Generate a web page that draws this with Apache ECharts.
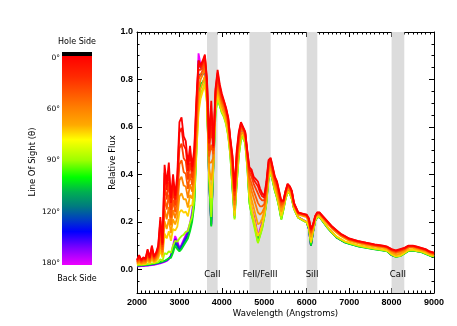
<!DOCTYPE html>
<html>
<head>
<meta charset="utf-8">
<script src="https://cdn.jsdelivr.net/npm/echarts@6/dist/echarts.min.js"></script>
<style>
html, body { margin: 0; padding: 0; background: #ffffff; }
#chart { width: 457px; height: 326px; }
</style>
</head>
<body>
<div id="chart"></div>
<script>
const wavelengths = [
    2000, 2050, 2100, 2150, 2200, 2250, 2300, 2350, 2400, 2450,
    2500, 2550, 2600, 2650, 2700, 2750, 2800, 2850, 2900, 2950,
    3000, 3050, 3100, 3150, 3200, 3250, 3300, 3350, 3400, 3450,
    3500, 3550, 3600, 3650, 3700, 3750, 3800, 3850, 3900, 3950,
    4000, 4050, 4100, 4150, 4200, 4250, 4300, 4350, 4400, 4450,
    4500, 4550, 4600, 4650, 4700, 4750, 4800, 4850, 4900, 4950,
    5000, 5050, 5100, 5150, 5200, 5250, 5300, 5350, 5400, 5450,
    5500, 5550, 5600, 5650, 5700, 5800, 5900, 6000, 6050, 6100,
    6150, 6200, 6250, 6300, 6400, 6500, 6600, 6700, 6800, 6900,
    7000, 7200, 7400, 7600, 7800, 7900, 8000, 8100, 8200, 8300,
    8400, 8500, 8600, 8700, 8800, 8900, 9000
];

// flux per viewing angle (hole side = 0 deg, back side = 180 deg)
const flux0 = [
    .04, .06, .04, .05, .045, .085, .05, .10, .055, .07,
    .10, .22, .11, .44, .36, .45, .30, .40, .31, .40,
    .62, .64, .56, .54, .44, .52, .43, .51, .72, .88,
    .86, .88, .905, .80, .55, .71, .52, .76, .84, .78,
    .74, .71, .68, .64, .55, .48, .34, .50, .58, .62,
    .60, .58, .50, .43, .42, .39, .38, .37, .34, .32,
    .31, .37, .46, .47, .43, .39, .37, .33, .29, .29,
    .33, .36, .35, .33, .28, .24, .235, .23, .215, .17,
    .19, .225, .24, .24, .22, .20, .18, .165, .15, .14,
    .13, .12, .112, .105, .10, .095, .085, .08, .085, .09,
    .10, .10, .095, .09, .085, .075, .07
];
const flux25 = [
    .038, .056, .038, .047, .042, .079, .047, .093, .052, .066,
    .094, .204, .103, .407, .334, .417, .28, .374, .293, .375,
    .576, .596, .523, .506, .415, .491, .412, .491, .696, .864,
    .852, .872, .899, .792, .53, .666, .512, .752, .828, .772,
    .732, .706, .676, .636, .546, .472, .328, .488, .572, .616,
    .596, .578, .496, .422, .408, .378, .364, .35, .324, .308,
    .302, .362, .452, .466, .426, .386, .366, .326, .286, .288,
    .329, .359, .349, .329, .279, .239, .234, .229, .213, .167,
    .189, .224, .239, .239, .219, .199, .179, .164, .149, .139,
    .129, .119, .111, .104, .099, .094, .084, .078, .083, .089,
    .099, .099, .094, .089, .084, .074, .069
];
const flux41 = [
    .034, .05, .034, .042, .038, .071, .043, .083, .047, .06,
    .084, .18, .093, .357, .294, .367, .25, .334, .268, .337,
    .51, .53, .468, .455, .378, .448, .384, .462, .66, .84,
    .84, .86, .89, .78, .50, .60, .50, .74, .81, .76,
    .72, .70, .67, .63, .54, .46, .31, .47, .56, .61,
    .59, .575, .49, .41, .39, .36, .34, .32, .30, .29,
    .29, .35, .44, .46, .42, .38, .36, .32, .28, .285,
    .325, .355, .345, .325, .276, .237, .232, .227, .21, .162,
    .186, .222, .237, .237, .217, .197, .177, .162, .147, .137,
    .127, .117, .109, .102, .097, .092, .081, .075, .08, .086,
    .097, .097, .092, .087, .082, .072, .067
];
const flux50 = [
    .03, .044, .03, .037, .034, .062, .038, .072, .042, .053,
    .074, .155, .082, .305, .252, .315, .217, .292, .241, .297,
    .442, .46, .41, .402, .339, .403, .355, .432, .62, .80,
    .82, .84, .87, .76, .475, .525, .485, .73, .795, .75,
    .71, .69, .66, .62, .53, .44, .29, .45, .545, .60,
    .588, .568, .48, .39, .36, .33, .305, .28, .265, .265,
    .275, .335, .43, .45, .41, .37, .35, .31, .27, .28,
    .32, .35, .342, .321, .273, .236, .231, .226, .207, .155,
    .183, .221, .236, .236, .216, .196, .176, .161, .146, .136,
    .126, .116, .108, .101, .096, .091, .079, .072, .077, .084,
    .096, .096, .091, .086, .081, .071, .066
];
const flux60 = [
    .027, .038, .027, .032, .03, .053, .034, .062, .037, .047,
    .064, .13, .071, .254, .21, .263, .185, .25, .215, .258,
    .375, .39, .353, .349, .30, .358, .327, .402, .58, .76,
    .80, .82, .85, .74, .45, .45, .47, .72, .78, .74,
    .70, .68, .65, .61, .52, .42, .27, .43, .53, .59,
    .585, .56, .47, .37, .33, .30, .27, .24, .23, .24,
    .26, .32, .42, .44, .40, .36, .34, .30, .26, .275,
    .315, .345, .338, .316, .27, .234, .229, .224, .203, .148,
    .18, .219, .234, .234, .214, .194, .174, .159, .144, .134,
    .124, .114, .106, .099, .094, .089, .076, .068, .073, .081,
    .094, .094, .089, .084, .079, .069, .064
];
const flux68 = [
    .023, .031, .023, .027, .026, .044, .029, .051, .032, .04,
    .054, .105, .06, .202, .17, .211, .152, .21, .189, .219,
    .307, .32, .295, .296, .26, .313, .298, .372, .54, .71,
    .76, .785, .815, .72, .425, .375, .455, .70, .76, .72,
    .685, .665, .635, .59, .505, .395, .248, .405, .515, .575,
    .578, .55, .455, .34, .295, .26, .225, .19, .195, .215,
    .245, .305, .405, .43, .39, .35, .325, .285, .243, .268,
    .308, .338, .332, .308, .265, .23, .225, .22, .195, .135,
    .172, .215, .23, .23, .21, .19, .17, .155, .14, .13,
    .12, .11, .102, .095, .09, .085, .07, .061, .066, .076,
    .09, .09, .085, .08, .075, .065, .06
];
const flux76 = [
    .019, .025, .02, .023, .022, .035, .025, .04, .028, .034,
    .044, .08, .05, .15, .13, .16, .12, .17, .163, .18,
    .24, .25, .238, .243, .223, .268, .269, .342, .50, .66,
    .72, .75, .78, .70, .40, .30, .44, .68, .74, .70,
    .67, .65, .62, .57, .49, .37, .225, .38, .50, .56,
    .57, .54, .44, .31, .26, .22, .18, .14, .16, .19,
    .23, .29, .39, .42, .38, .34, .31, .27, .225, .26,
    .298, .328, .323, .298, .258, .219, .209, .199, .18, .115,
    .162, .207, .222, .224, .20, .176, .156, .139, .128, .118,
    .112, .102, .094, .088, .083, .079, .064, .055, .058, .069,
    .081, .083, .079, .076, .069, .061, .056
];
const flux90 = [
    .019, .019, .02, .02, .021, .022, .023, .025, .026, .028,
    .03, .042, .035, .068, .063, .076, .07, .10, .12, .116,
    .13, .14, .146, .158, .161, .196, .223, .294, .48, .68,
    .74, .76, .79, .70, .38, .22, .43, .66, .72, .69,
    .66, .64, .61, .56, .48, .34, .21, .36, .48, .545,
    .56, .53, .43, .28, .23, .19, .15, .11, .14, .17,
    .22, .28, .38, .41, .37, .33, .30, .26, .21, .25,
    .295, .325, .32, .295, .255, .217, .207, .197, .175, .11,
    .16, .205, .22, .222, .198, .174, .154, .137, .126, .116,
    .11, .10, .092, .086, .081, .077, .062, .053, .056, .067,
    .079, .081, .077, .074, .067, .059, .054
];
const flux104 = [
    .017, .017, .018, .018, .019, .02, .021, .023, .024, .026,
    .028, .03, .033, .036, .04, .047, .048, .07, .10, .085,
    .075, .085, .10, .115, .13, .16, .20, .27, .50, .74,
    .78, .79, .81, .72, .37, .18, .43, .66, .72, .69,
    .66, .645, .615, .565, .48, .34, .215, .36, .48, .545,
    .56, .53, .43, .28, .23, .20, .16, .115, .145, .175,
    .22, .28, .38, .41, .37, .33, .30, .26, .21, .25,
    .295, .325, .32, .295, .255, .217, .207, .197, .172, .10,
    .157, .203, .218, .22, .196, .172, .152, .134, .123, .113,
    .107, .097, .09, .084, .079, .075, .06, .052, .055, .066,
    .077, .079, .075, .072, .065, .057, .052
];
const flux120 = [
    .016, .016, .017, .017, .018, .019, .02, .022, .023, .025,
    .027, .029, .032, .035, .039, .046, .053, .081, .114, .097,
    .08, .092, .109, .126, .142, .172, .216, .287, .55, .82,
    .82, .82, .84, .73, .37, .185, .44, .68, .74, .70,
    .68, .66, .63, .59, .50, .35, .225, .38, .50, .56,
    .575, .55, .45, .29, .24, .21, .17, .125, .155, .185,
    .225, .285, .385, .415, .375, .335, .305, .265, .215, .255,
    .30, .33, .325, .298, .257, .218, .208, .198, .171, .10,
    .157, .205, .22, .221, .197, .173, .153, .134, .123, .113,
    .108, .098, .091, .085, .08, .076, .06, .053, .056, .067,
    .078, .08, .076, .073, .066, .058, .053
];
const flux139 = [
    .014, .014, .015, .015, .016, .017, .018, .02, .021, .023,
    .025, .027, .03, .033, .037, .044, .057, .091, .128, .109,
    .086, .099, .118, .136, .155, .185, .231, .305, .60, .88,
    .85, .84, .86, .74, .375, .19, .45, .70, .75, .71,
    .69, .67, .65, .61, .52, .37, .232, .39, .51, .57,
    .585, .56, .47, .30, .25, .22, .18, .13, .16, .19,
    .23, .29, .39, .42, .38, .34, .31, .27, .22, .26,
    .305, .333, .328, .30, .258, .219, .209, .199, .17, .10,
    .158, .207, .222, .223, .198, .174, .154, .135, .124, .114,
    .109, .099, .092, .086, .081, .077, .06, .054, .057, .068,
    .079, .081, .077, .074, .067, .059, .054
];
const flux180 = [
    .012, .012, .013, .013, .014, .015, .016, .018, .019, .021,
    .023, .025, .028, .031, .035, .042, .06, .10, .14, .12,
    .09, .105, .125, .145, .165, .195, .245, .32, .62, .91,
    .86, .85, .87, .75, .38, .19, .45, .70, .75, .72,
    .70, .68, .66, .62, .53, .38, .24, .40, .52, .58,
    .595, .57, .48, .31, .26, .23, .19, .14, .17, .20,
    .24, .30, .40, .42, .38, .34, .31, .27, .22, .26,
    .31, .335, .33, .30, .26, .22, .21, .20, .17, .10,
    .16, .21, .225, .225, .20, .175, .155, .135, .125, .115,
    .11, .10, .093, .087, .082, .078, .06, .055, .058, .07,
    .08, .082, .078, .075, .068, .06, .055
];

const angles = [0, 25, 41, 50, 60, 68, 76, 90, 104, 120, 139, 180];
const fluxByAngle = [
    flux0, flux25, flux41, flux50, flux60, flux68,
    flux76, flux90, flux104, flux120, flux139, flux180
];
const lineColors = [
    "#ff0000", "#ff1400", "#ff3c00", "#ff5a00", "#ff8000", "#ffa000",
    "#ffd000", "#a0ff00", "#00e020", "#0050b0", "#6000ff", "#f000ff"
];

const bandNames = ["CaII", "FeII/FeIII", "SiII", "CaII"];
const bandStarts = [3650, 4650, 6000, 8000];
const bandEnds = [3900, 5150, 6250, 8300];

const yLabelValues = [0, 0.2, 0.4, 0.6, 0.8, 1.0];
const barAngles = [0, 60, 90, 120, 180];

const chart = echarts.init(document.getElementById("chart"));

const tickFont = {
    color: "#000000",
    fontFamily: "Liberation Sans",
    fontWeight: "bold",
    fontSize: 9
};
const nameFont = {
    color: "#000000",
    fontFamily: "DejaVu Sans",
    fontSize: 8.5
};
const black = { color: "#000000", width: 1 };

function yAxisFor(position, major) {
    return {
        type: "value",
        position: position,
        min: -0.1,
        max: 1.0,
        interval: 0.05,
        axisLine: { show: major, onZero: false, lineStyle: black },
        axisTick: major
            ? { inside: true, length: 5, customValues: yLabelValues, lineStyle: black }
            : { inside: true, length: 2.5, lineStyle: black },
        axisLabel: { show: false },
        splitLine: { show: false }
    };
}

function xAxisFor(position) {
    return {
        type: "value",
        position: position,
        min: 2000,
        max: 9000,
        interval: 1000,
        axisLine: { show: true, onZero: false, lineStyle: black },
        axisTick: { inside: true, length: 5, lineStyle: black },
        minorTick: { show: true, splitNumber: 10, length: 2.5, lineStyle: black },
        axisLabel: { show: false },
        splitLine: { show: false },
        minorSplitLine: { show: false }
    };
}

const bottomAxis = xAxisFor("bottom");
bottomAxis.axisLabel = Object.assign({
    show: true,
    margin: 5,
    formatter: value => String(value)
}, tickFont);
bottomAxis.name = "Wavelength (Angstroms)";
bottomAxis.nameLocation = "middle";
bottomAxis.nameGap = 16;
bottomAxis.nameMoveOverlap = false;
bottomAxis.nameTextStyle = nameFont;

const leftAxis = yAxisFor("left", true);
leftAxis.axisLabel = Object.assign({
    show: true,
    margin: 4,
    customValues: yLabelValues,
    formatter: value => value.toFixed(1)
}, tickFont);
leftAxis.name = "Relative Flux";
leftAxis.nameLocation = "middle";
leftAxis.nameRotate = 90;
leftAxis.nameGap = 20;
leftAxis.nameMoveOverlap = false;
leftAxis.nameTextStyle = nameFont;

const series = [
    {
        type: "line",
        data: [],
        z: 1,
        silent: true,
        markArea: {
            silent: true,
            itemStyle: { color: "#dcdcdc" },
            label: {
                show: true,
                position: "insideBottom",
                distance: 14,
                color: "#000000",
                fontFamily: "DejaVu Sans",
                fontSize: 8.5
            },
            data: bandNames.map((name, i) => [
                { name: name, xAxis: bandStarts[i] },
                { xAxis: bandEnds[i] }
            ])
        }
    }
];

// back side first, hole side drawn last (on top)
for (let i = angles.length - 1; i >= 0; i--) {
    series.push({
        name: angles[i] + "°",
        type: "line",
        z: 2,
        showSymbol: false,
        symbol: "none",
        data: wavelengths.map((w, j) => [w, fluxByAngle[i][j]]),
        lineStyle: { color: lineColors[i], width: 1.8 }
    });
}

// colour bar on the left
const barX = 62;
const barTop = 56;
const barBottom = 265;
const barWidth = 30;

function barY(angle) {
    const mu = Math.cos(angle * Math.PI / 180);
    return barTop + 2 + (1 - mu) / 2 * (barBottom - barTop - 4);
}

const smallText = { fill: "#000000", fontFamily: "DejaVu Sans", fontSize: 8 };

const graphics = [
    {
        type: "rect",
        shape: { x: barX, y: barTop - 4, width: barWidth, height: 4 },
        style: { fill: "#000000" }
    },
    {
        type: "rect",
        shape: { x: barX, y: barTop, width: barWidth, height: barBottom - barTop },
        style: {
            fill: new echarts.graphic.LinearGradient(0, 0, 0, 1, [
                { offset: 0, color: "#ff0000" },
                { offset: 0.1, color: "#ff2a00" },
                { offset: 0.25, color: "#ff8000" },
                { offset: 0.33, color: "#ffaa00" },
                { offset: 0.4, color: "#ffff00" },
                { offset: 0.5, color: "#9cff00" },
                { offset: 0.58, color: "#00ff00" },
                { offset: 0.65, color: "#00b050" },
                { offset: 0.72, color: "#007a80" },
                { offset: 0.78, color: "#0040c0" },
                { offset: 0.84, color: "#0000ff" },
                { offset: 0.92, color: "#8000ff" },
                { offset: 1, color: "#ee00ff" }
            ])
        }
    },
    {
        type: "text",
        x: barX + barWidth / 2,
        y: 42,
        style: Object.assign({ text: "Hole Side", textAlign: "center", textVerticalAlign: "middle" }, smallText)
    },
    {
        type: "text",
        x: barX + barWidth / 2,
        y: 279,
        style: Object.assign({ text: "Back Side", textAlign: "center", textVerticalAlign: "middle" }, smallText)
    },
    {
        type: "text",
        x: 33,
        y: 162,
        rotation: Math.PI / 2,
        style: Object.assign({ text: "Line Of Sight (θ)", textAlign: "center", textVerticalAlign: "middle" }, smallText, { fontSize: 8.5 })
    }
];

barAngles.forEach(angle => {
    graphics.push({
        type: "text",
        x: barX - 2,
        y: barY(angle),
        style: Object.assign({ text: angle + "°", textAlign: "right", textVerticalAlign: "middle" }, smallText, { fontSize: 7.5 })
    });
});

chart.setOption({
    animation: false,
    backgroundColor: "#ffffff",
    grid: { left: 137, right: 23, top: 32, bottom: 33 },
    xAxis: [bottomAxis, xAxisFor("top")],
    yAxis: [leftAxis, yAxisFor("left", false), yAxisFor("right", true), yAxisFor("right", false)],
    series: series,
    graphic: graphics
});
</script>
</body>
</html>
